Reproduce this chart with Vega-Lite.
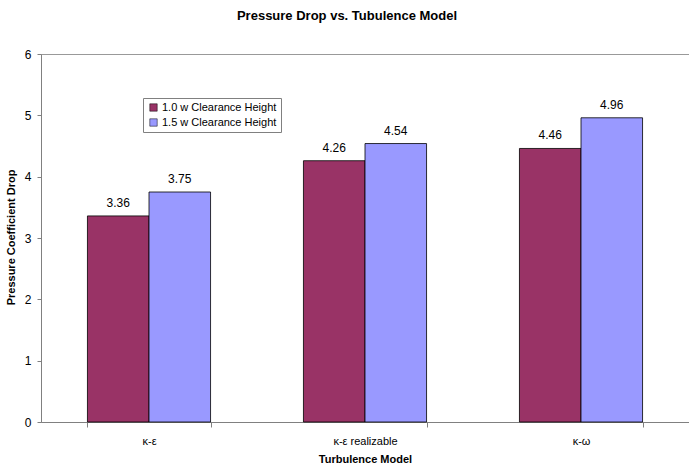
{
  "$schema": "https://vega.github.io/schema/vega-lite/v6.json",
  "autosize": {"type": "none"},
  "padding": {"left": 41, "top": 54, "right": 0, "bottom": 49},
  "width": 648,
  "height": 368,
  "background": "white",
  "title": {
    "text": "Pressure Drop vs. Tubulence Model",
    "font": "Liberation Sans",
    "fontSize": 13,
    "fontWeight": "bold",
    "color": "black",
    "anchor": "middle",
    "dx": -18,
    "offset": 25
  },
  "config": {
    "font": "Liberation Sans",
    "view": {"stroke": "#999999", "strokeWidth": 1},
    "axis": {
      "grid": false,
      "labelColor": "black",
      "titleColor": "black",
      "domainColor": "#808080",
      "tickColor": "#808080",
      "labelFont": "Liberation Sans",
      "titleFont": "Liberation Sans",
      "titleFontWeight": "bold",
      "titleFontSize": 11
    }
  },
  "data": {
    "values": [
      {"model": "κ-ε", "series": "1.0 w Clearance Height", "value": 3.36},
      {"model": "κ-ε", "series": "1.5 w Clearance Height", "value": 3.75},
      {"model": "κ-ε realizable", "series": "1.0 w Clearance Height", "value": 4.26},
      {"model": "κ-ε realizable", "series": "1.5 w Clearance Height", "value": 4.54},
      {"model": "κ-ω", "series": "1.0 w Clearance Height", "value": 4.46},
      {"model": "κ-ω", "series": "1.5 w Clearance Height", "value": 4.96}
    ]
  },
  "encoding": {
    "x": {
      "field": "model",
      "type": "nominal",
      "sort": null,
      "title": "Turbulence Model",
      "scale": {"paddingInner": 0.43, "paddingOuter": 0.215},
      "axis": {
        "labelAngle": 0,
        "labelFontSize": 11,
        "labelPadding": 8,
        "tickBand": "extent",
        "tickSize": 5,
        "titlePadding": 7
      }
    },
    "xOffset": {"field": "series", "type": "nominal"},
    "y": {
      "field": "value",
      "type": "quantitative",
      "title": "Pressure Coefficient Drop",
      "scale": {"domain": [0, 6], "nice": false},
      "axis": {
        "values": [0, 1, 2, 3, 4, 5, 6],
        "labelFontSize": 12,
        "tickSize": 4,
        "labelPadding": 6,
        "titlePadding": 8,
        "titleY": 183
      }
    }
  },
  "layer": [
    {
      "mark": {"type": "bar", "stroke": "black", "strokeWidth": 0.8},
      "encoding": {
        "color": {
          "field": "series",
          "type": "nominal",
          "scale": {"range": ["#993366", "#9999FF"]},
          "legend": {
            "title": null,
            "orient": "none",
            "legendX": 102,
            "legendY": 44,
            "symbolType": "square",
            "symbolSize": 55,
            "symbolStrokeColor": "black",
            "symbolStrokeWidth": 0.5,
            "symbolOffset": 1,
            "labelFontSize": 11,
            "labelOffset": 3,
            "labelColor": "black",
            "labelFont": "Liberation Sans",
            "rowPadding": 3,
            "padding": 4,
            "strokeColor": "#808080",
            "fillColor": "white"
          }
        }
      }
    },
    {
      "mark": {"type": "text", "baseline": "bottom", "dy": -6, "fontSize": 12, "color": "black"},
      "encoding": {
        "text": {"field": "value", "type": "quantitative", "format": ".2f"}
      }
    }
  ]
}
